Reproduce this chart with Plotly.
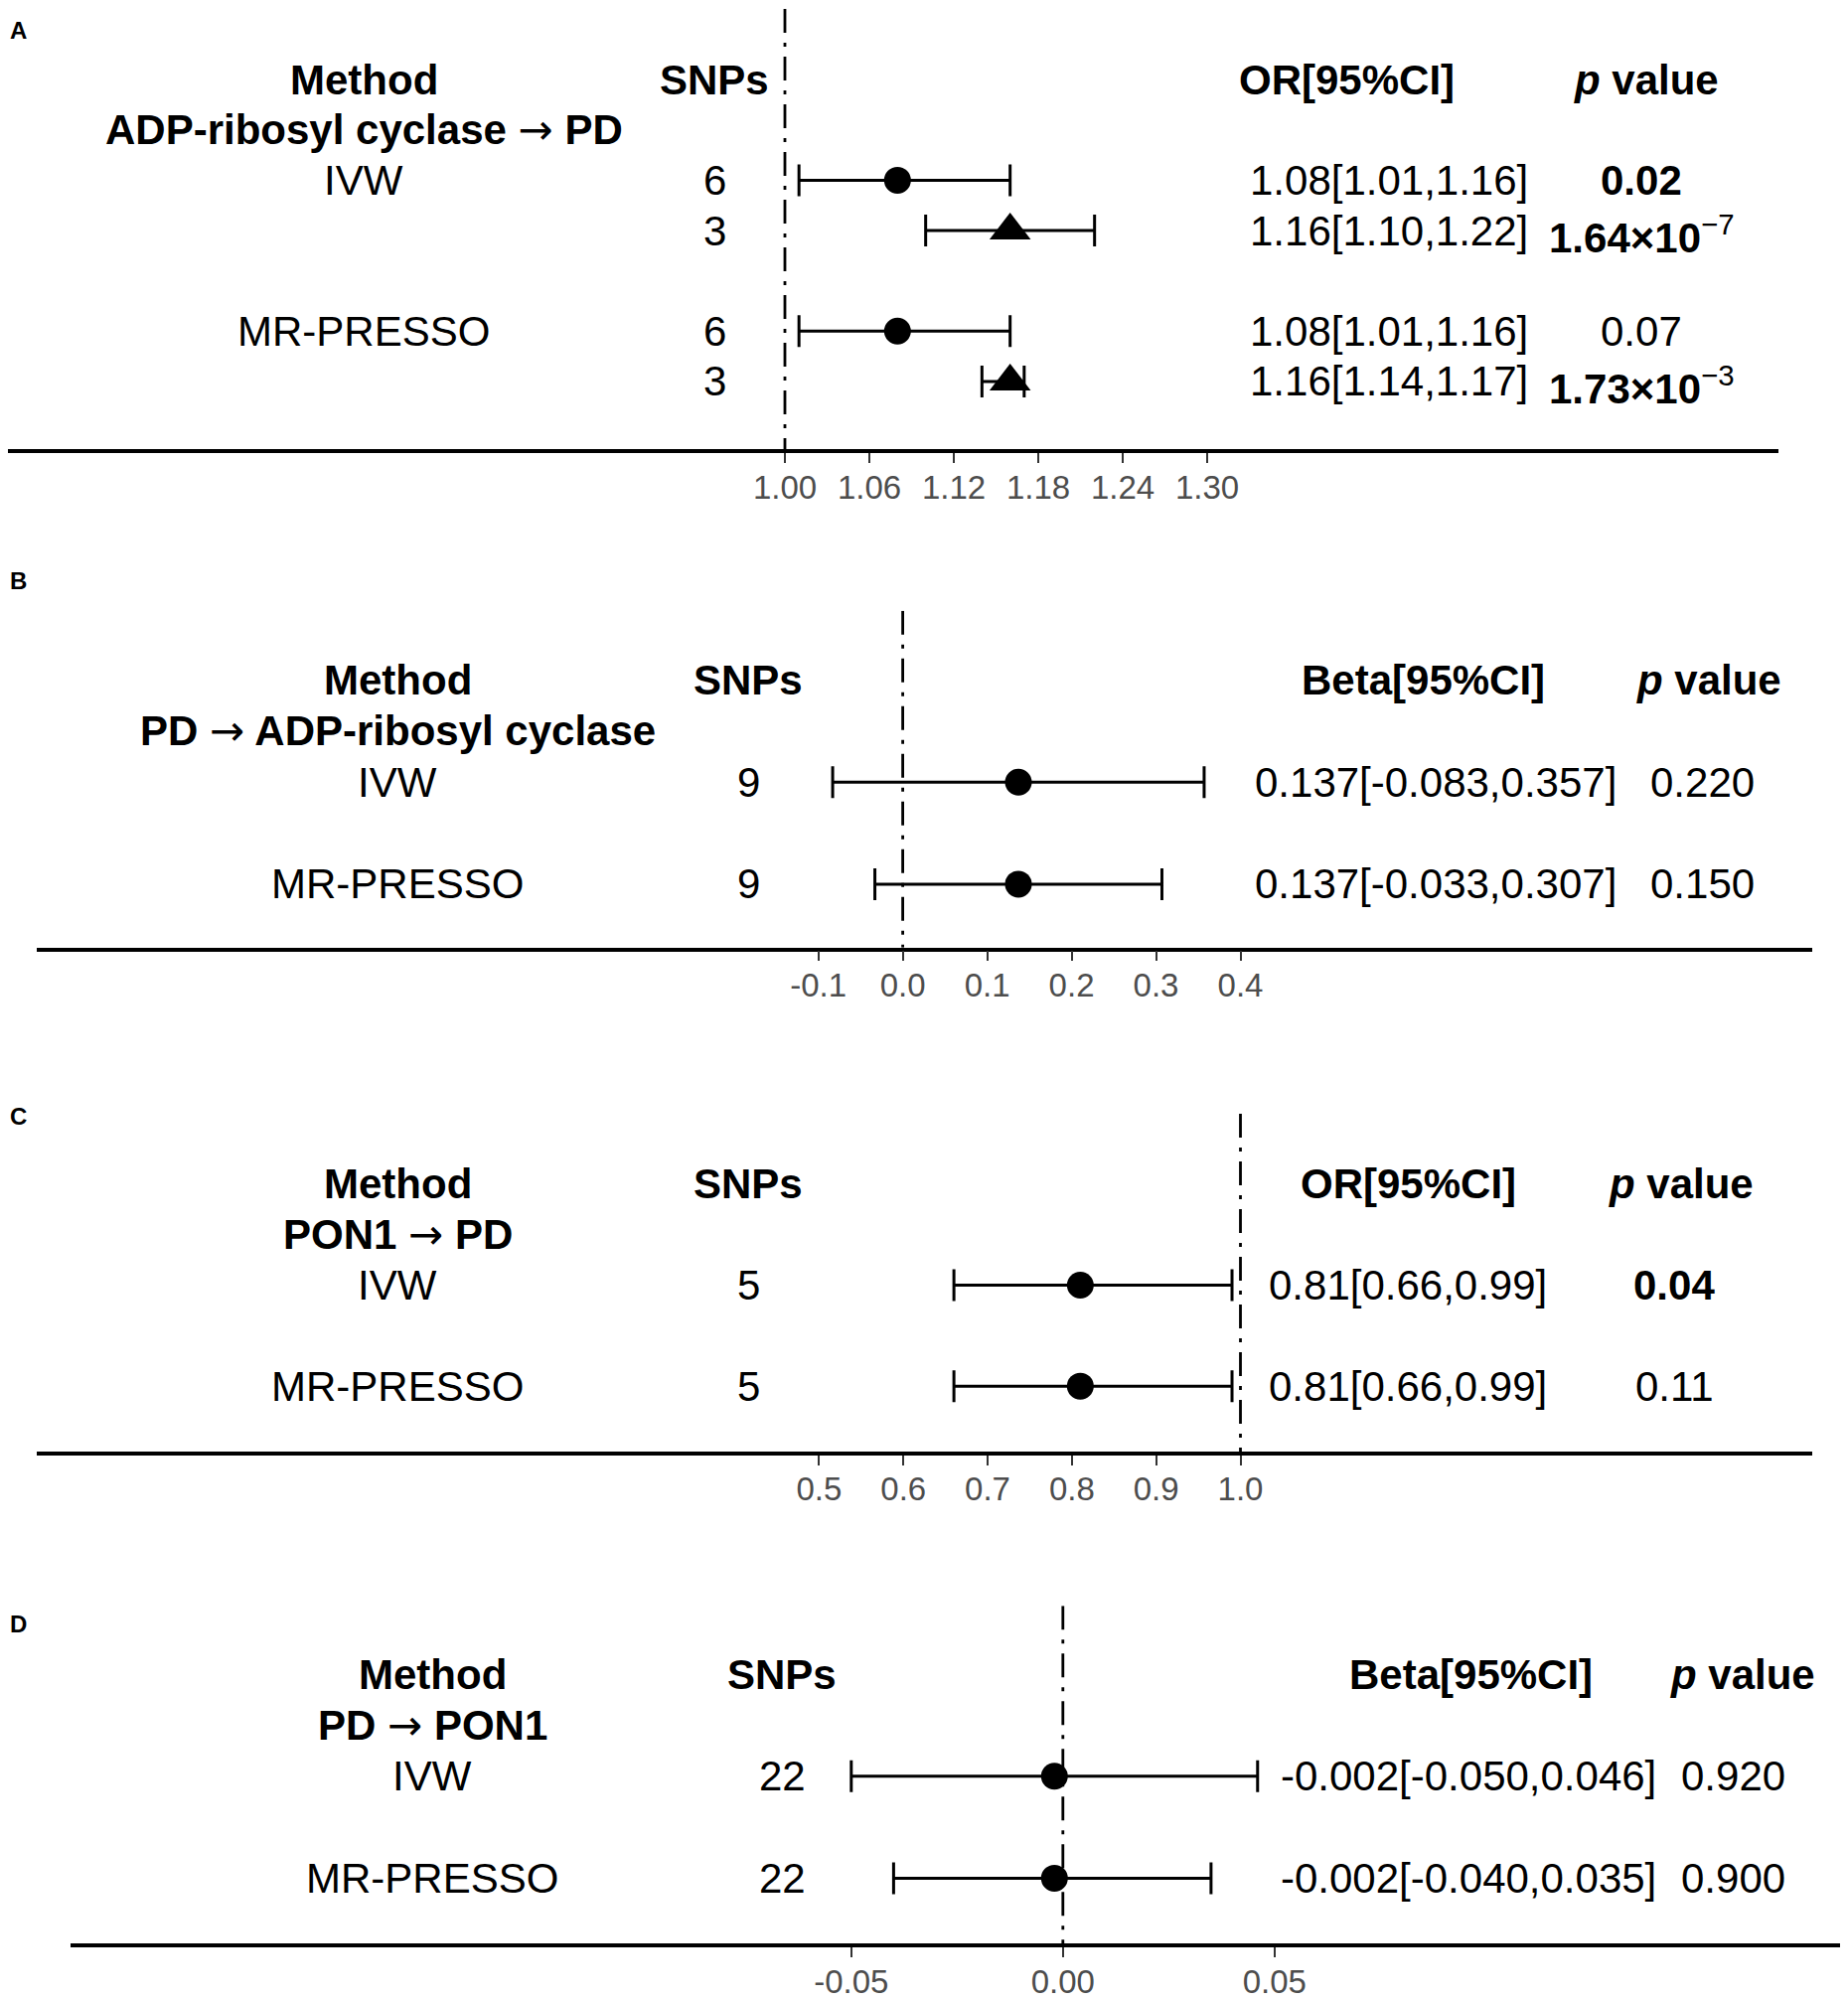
import plotly.graph_objects as go

FONT = "Liberation Sans, Arial, sans-serif"
OFF = 8  # default page margin around the plot div
W, H = 1860 - OFF, 2013 - OFF
ARROW = '<span style="font-family:DejaVu Sans;font-weight:normal">→</span>'

# ---- data -------------------------------------------------------------
# A: ADP-ribosyl cyclase -> PD
a_method = ["IVW", "", "MR-PRESSO", ""]
a_rows = [0, 1, 3, 4]
a_snps = [6, 3, 6, 3]
a_est = [1.08, 1.16, 1.08, 1.16]
a_lo = [1.01, 1.10, 1.01, 1.14]
a_hi = [1.16, 1.22, 1.16, 1.17]
a_p = ["0.02", "1.64×10", "0.07", "1.73×10"]
a_pexp = ["", "−7", "", "−3"]
a_pbold = [True, True, False, True]
a_symbol = ["circle", "triangle-up", "circle", "triangle-up"]
a_ticks = [1.00, 1.06, 1.12, 1.18, 1.24, 1.30]

# B: PD -> ADP-ribosyl cyclase
b_method = ["IVW", "MR-PRESSO"]
b_rows = [0, 2]
b_snps = [9, 9]
b_est = [0.137, 0.137]
b_lo = [-0.083, -0.033]
b_hi = [0.357, 0.307]
b_p = ["0.220", "0.150"]
b_pexp = ["", ""]
b_pbold = [False, False]
b_symbol = ["circle", "circle"]
b_ticks = [-0.1, 0.0, 0.1, 0.2, 0.3, 0.4]

# C: PON1 -> PD
c_method = ["IVW", "MR-PRESSO"]
c_rows = [0, 2]
c_snps = [5, 5]
c_est = [0.81, 0.81]
c_lo = [0.66, 0.66]
c_hi = [0.99, 0.99]
c_p = ["0.04", "0.11"]
c_pexp = ["", ""]
c_pbold = [True, False]
c_symbol = ["circle", "circle"]
c_ticks = [0.5, 0.6, 0.7, 0.8, 0.9, 1.0]

# D: PD -> PON1
d_method = ["IVW", "MR-PRESSO"]
d_rows = [0, 2]
d_snps = [22, 22]
d_est = [-0.002, -0.002]
d_lo = [-0.050, -0.040]
d_hi = [0.046, 0.035]
d_p = ["0.920", "0.900"]
d_pexp = ["", ""]
d_pbold = [False, False]
d_symbol = ["circle", "circle"]
d_ticks = [-0.05, 0.00, 0.05]

panels = [
    dict(tag="A", title=("ADP-ribosyl cyclase", "PD"), est_head="OR[95%CI]", ref=1.0, dec=2, tdec=2,
         method=a_method, rows=a_rows, snps=a_snps, est=a_est, lo=a_lo, hi=a_hi,
         p=a_p, pexp=a_pexp, pbold=a_pbold, symbol=a_symbol, ticks=a_ticks),
    dict(tag="B", title=("PD", "ADP-ribosyl cyclase"), est_head="Beta[95%CI]", ref=0.0, dec=3, tdec=1,
         method=b_method, rows=b_rows, snps=b_snps, est=b_est, lo=b_lo, hi=b_hi,
         p=b_p, pexp=b_pexp, pbold=b_pbold, symbol=b_symbol, ticks=b_ticks),
    dict(tag="C", title=("PON1", "PD"), est_head="OR[95%CI]", ref=1.0, dec=2, tdec=1,
         method=c_method, rows=c_rows, snps=c_snps, est=c_est, lo=c_lo, hi=c_hi,
         p=c_p, pexp=c_pexp, pbold=c_pbold, symbol=c_symbol, ticks=c_ticks),
    dict(tag="D", title=("PD", "PON1"), est_head="Beta[95%CI]", ref=0.0, dec=3, tdec=2,
         method=d_method, rows=d_rows, snps=d_snps, est=d_est, lo=d_lo, hi=d_hi,
         p=d_p, pexp=d_pexp, pbold=d_pbold, symbol=d_symbol, ticks=d_ticks),
]

# ---- layout geometry (page pixels) -------------------------------------
geo = [
    dict(letter_y=31, top=9, row0=182, unit=50.8, axis=454, left=3, right=1790,
         anchor=((1.00, 790), (1.30, 1215)),
         cols=dict(method=366, snps=719, est=1398, est_h=1355, p=1652, p_h=1657)),
    dict(letter_y=587, top=617, row0=790, unit=51.5, axis=957, left=37, right=1824,
         anchor=((0.0, 908.6), (0.4, 1248.5)),
         cols=dict(method=400, snps=753, est=1445, est_h=1432, p=1713, p_h=1720)),
    dict(letter_y=1127, top=1125, row0=1298, unit=51.0, axis=1466, left=37, right=1824,
         anchor=((0.5, 824.4), (1.0, 1248.5)),
         cols=dict(method=400, snps=753, est=1417, est_h=1417, p=1685, p_h=1692)),
    dict(letter_y=1640, top=1622, row0=1794, unit=51.5, axis=1963, left=71, right=1860,
         anchor=((-0.05, 856.8), (0.05, 1282.8)),
         cols=dict(method=435, snps=787, est=1478, est_h=1480, p=1744, p_h=1754)),
]


def fx(px):
    return min(max((px - OFF) / W, 0.0), 1.0)


def fy(py):
    return min(max(1 - (py - OFF) / H, 0.0), 1.0)


fig = go.Figure()
annotations = []
layout_axes = {}


def txt(x_px, y, yref, text, bold=False, size=42, yshift=0):
    annotations.append(dict(
        x=fx(x_px), xref="paper", y=y, yref=yref, text=f"<b>{text}</b>" if bold else text,
        showarrow=False, xanchor="center", yanchor="middle", yshift=yshift,
        font=dict(family=FONT, size=size, color="black")))


for i, (pn, g) in enumerate(zip(panels, geo)):
    n = "" if i == 0 else str(i + 1)
    xname, yname = "x" + n, "y" + n

    left = max(g["left"], OFF)
    right = min(g["right"], OFF + W)
    (va, pa), (vb, pb) = g["anchor"]
    k = (pb - pa) / (vb - va)
    xr = [va - (pa - left) / k, vb + (right - pb) / k]
    yr_bot = (g["axis"] - g["row0"]) / g["unit"]
    yr_top = (g["top"] - g["row0"]) / g["unit"]

    layout_axes["xaxis" + n] = dict(
        domain=[fx(left), fx(right)], range=xr, anchor=yname,
        showgrid=False, zeroline=False, showline=True, linecolor="black", linewidth=3.5,
        ticks="outside", ticklen=10, tickwidth=2, tickcolor="#333333",
        tickvals=pn["ticks"], ticktext=[f"{t:.{pn['tdec']}f}" for t in pn["ticks"]],
        tickfont=dict(family=FONT, size=33, color="#4D4D4D"), ticklabelstandoff=-4,
        fixedrange=True)
    layout_axes["yaxis" + n] = dict(
        domain=[fy(g["axis"]), fy(g["top"])], range=[yr_bot, yr_top], anchor=xname,
        visible=False, fixedrange=True)

    # reference line
    fig.add_trace(go.Scatter(
        x=[pn["ref"], pn["ref"]], y=[yr_top, yr_bot], mode="lines", xaxis=xname, yaxis=yname,
        line=dict(color="black", width=2.8, dash="24px,10px,4px,10px"),
        hoverinfo="skip", showlegend=False))

    # estimates with CI
    fig.add_trace(go.Scatter(
        x=pn["est"], y=pn["rows"], mode="markers", xaxis=xname, yaxis=yname,
        marker=dict(symbol=pn["symbol"], color="black", opacity=1,
                    line=dict(color="black", width=0),
                    size=[36 if s.startswith("triangle") else 27 for s in pn["symbol"]]),
        error_x=dict(type="data", symmetric=False,
                     array=[h - e for h, e in zip(pn["hi"], pn["est"])],
                     arrayminus=[e - l for e, l in zip(pn["est"], pn["lo"])],
                     color="black", thickness=3, width=16),
        cliponaxis=False, showlegend=False))

    c = g["cols"]
    # panel letter
    annotations.append(dict(
        x=fx(OFF), xref="paper", y=fy(g["letter_y"]), yref="paper", text=f"<b>{pn['tag']}</b>",
        showarrow=False, xanchor="left", yanchor="middle",
        font=dict(family=FONT, size=24, color="black")))
    # header row and title row
    txt(c["method"], -2, yname, "Method", bold=True)
    txt(c["snps"], -2, yname, "SNPs", bold=True)
    txt(c["est_h"], -2, yname, pn["est_head"], bold=True)
    txt(c["p_h"], -2, yname, "<i>p</i> value", bold=True)
    src, dst = pn["title"]
    txt(c["method"], -1, yname, f"<b>{src} </b>{ARROW}<b> {dst}</b>")

    for j, r in enumerate(pn["rows"]):
        if pn["method"][j]:
            txt(c["method"], r, yname, pn["method"][j])
        txt(c["snps"], r, yname, str(pn["snps"][j]))
        d = pn["dec"]
        txt(c["est"], r, yname, f"{pn['est'][j]:.{d}f}[{pn['lo'][j]:.{d}f},{pn['hi'][j]:.{d}f}]")
        p = f"<b>{pn['p'][j]}</b>" if pn["pbold"][j] else pn["p"][j]
        if pn["pexp"][j]:
            txt(c["p"], r, yname, p + f"<sup>{pn['pexp'][j]}</sup>", yshift=-4)
        else:
            txt(c["p"], r, yname, p)

fig.update_layout(
    width=W, height=H, margin=dict(l=0, r=0, t=0, b=0),
    paper_bgcolor="white", plot_bgcolor="white", showlegend=False,
    annotations=annotations, **layout_axes)

fig.write_html("out.html")
